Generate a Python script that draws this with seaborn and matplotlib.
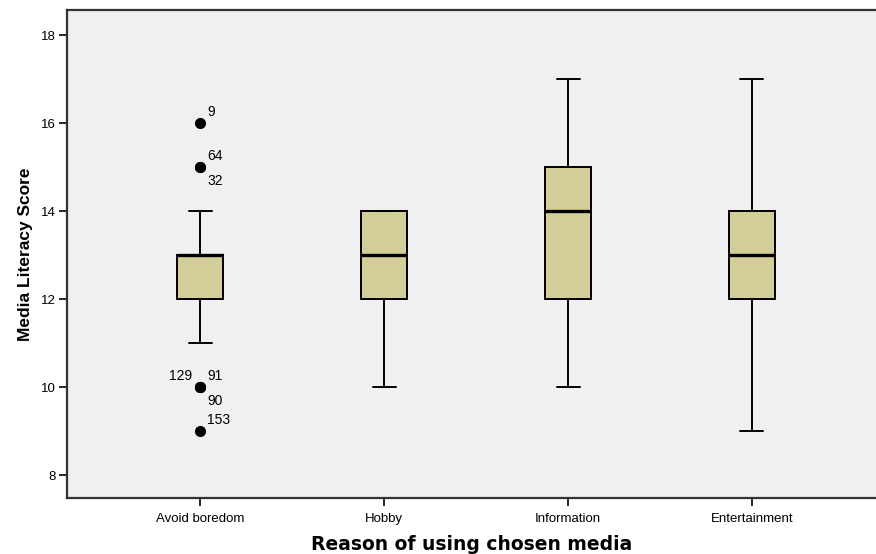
import matplotlib
matplotlib.use("Agg")
import matplotlib.pyplot as plt
import seaborn as sns
import pandas as pd

categories = ["Avoid boredom", "Hobby", "Information", "Entertainment"]
avoid_boredom = [9, 10, 10, 10, 11, 12, 12, 12, 12, 12, 12, 13, 13, 13, 13, 13, 13, 13, 13, 14, 14, 15, 15, 16]
hobby = [10, 11, 12, 12, 13, 13, 13, 13, 14, 14, 14, 14]
information = [10, 11, 12, 12, 13, 14, 14, 14, 15, 15, 16, 17]
entertainment = [9, 11, 12, 12, 13, 13, 13, 13, 14, 14, 15, 17]
y_ticks = [8, 10, 12, 14, 16, 18]

# outlier case labels: (category index, value, label, side)
outlier_labels = [
    (0, 16, "9", "upper"),
    (0, 15, "64", "upper"),
    (0, 15, "32", "lower"),
    (0, 10, "129", "left"),
    (0, 10, "91", "upper"),
    (0, 10, "90", "lower"),
    (0, 9, "153", "upper"),
]

groups = [avoid_boredom, hobby, information, entertainment]
df = pd.DataFrame({
    "reason": [c for c, g in zip(categories, groups) for _ in g],
    "score": [v for g in groups for v in g],
})

sns.set_theme(style="white")
plt.rcParams["font.family"] = ["Liberation Sans", "DejaVu Sans"]
plt.rcParams["text.color"] = "black"
plt.rcParams["axes.labelcolor"] = "black"
plt.rcParams["xtick.color"] = "black"
plt.rcParams["ytick.color"] = "black"

fig = plt.figure(figsize=(8.76, 5.54), dpi=100)
ax = fig.add_axes([67 / 876, 1 - 498 / 554, 1 - 67 / 876, (498 - 10) / 554])
ax.set_facecolor("#F0F0F0")

sns.boxplot(
    data=df, x="reason", y="score", order=categories, ax=ax,
    width=0.25, color="#D3CE97", saturation=1, whis=1.5,
    linewidth=1.4, linecolor="black",
    boxprops=dict(edgecolor="black", linewidth=1.4),
    medianprops=dict(color="black", linewidth=2.4),
    whiskerprops=dict(color="black", linewidth=1.4),
    capprops=dict(color="black", linewidth=1.4),
    flierprops=dict(marker="o", markerfacecolor="black", markeredgecolor="black", markersize=7),
)

fs_lab = 10
for ci, val, lab, side in outlier_labels:
    if side == "upper":
        ax.annotate(lab, (ci, val), xytext=(5, 3), textcoords="offset points", fontsize=fs_lab, ha="left", va="bottom", color="black")
    elif side == "lower":
        ax.annotate(lab, (ci, val), xytext=(5, -5), textcoords="offset points", fontsize=fs_lab, ha="left", va="top", color="black")
    else:
        ax.annotate(lab, (ci, val), xytext=(-6, 3), textcoords="offset points", fontsize=fs_lab, ha="right", va="bottom", color="black")

ax.set_xlim(-0.723, 3.674)
ax.set_ylim(7.48, 18.57)
ax.set_yticks(y_ticks)
ax.set_yticklabels([str(t) for t in y_ticks], fontsize=9.5)
ax.tick_params(axis="x", labelsize=9.5, length=6, width=1.2, color="black", labelcolor="black", direction="out", bottom=True, pad=5)
ax.tick_params(axis="y", length=6, width=1.2, color="black", labelcolor="black", direction="out", left=True, pad=2)

for s in ["left", "top", "bottom"]:
    ax.spines[s].set_color("#333333")
    ax.spines[s].set_linewidth(1.6)
ax.spines["right"].set_visible(False)

ax.set_xlabel("Reason of using chosen media", fontsize=13.5, fontweight="bold", labelpad=7, color="black",
              family=["DejaVu Sans", "Liberation Sans"])
ax.set_ylabel("Media Literacy Score", fontsize=12.5, fontweight="bold", color="black",
              family=["Liberation Sans Narrow", "Liberation Sans", "DejaVu Sans"], labelpad=6)

fig.savefig("out.png", dpi=100)
